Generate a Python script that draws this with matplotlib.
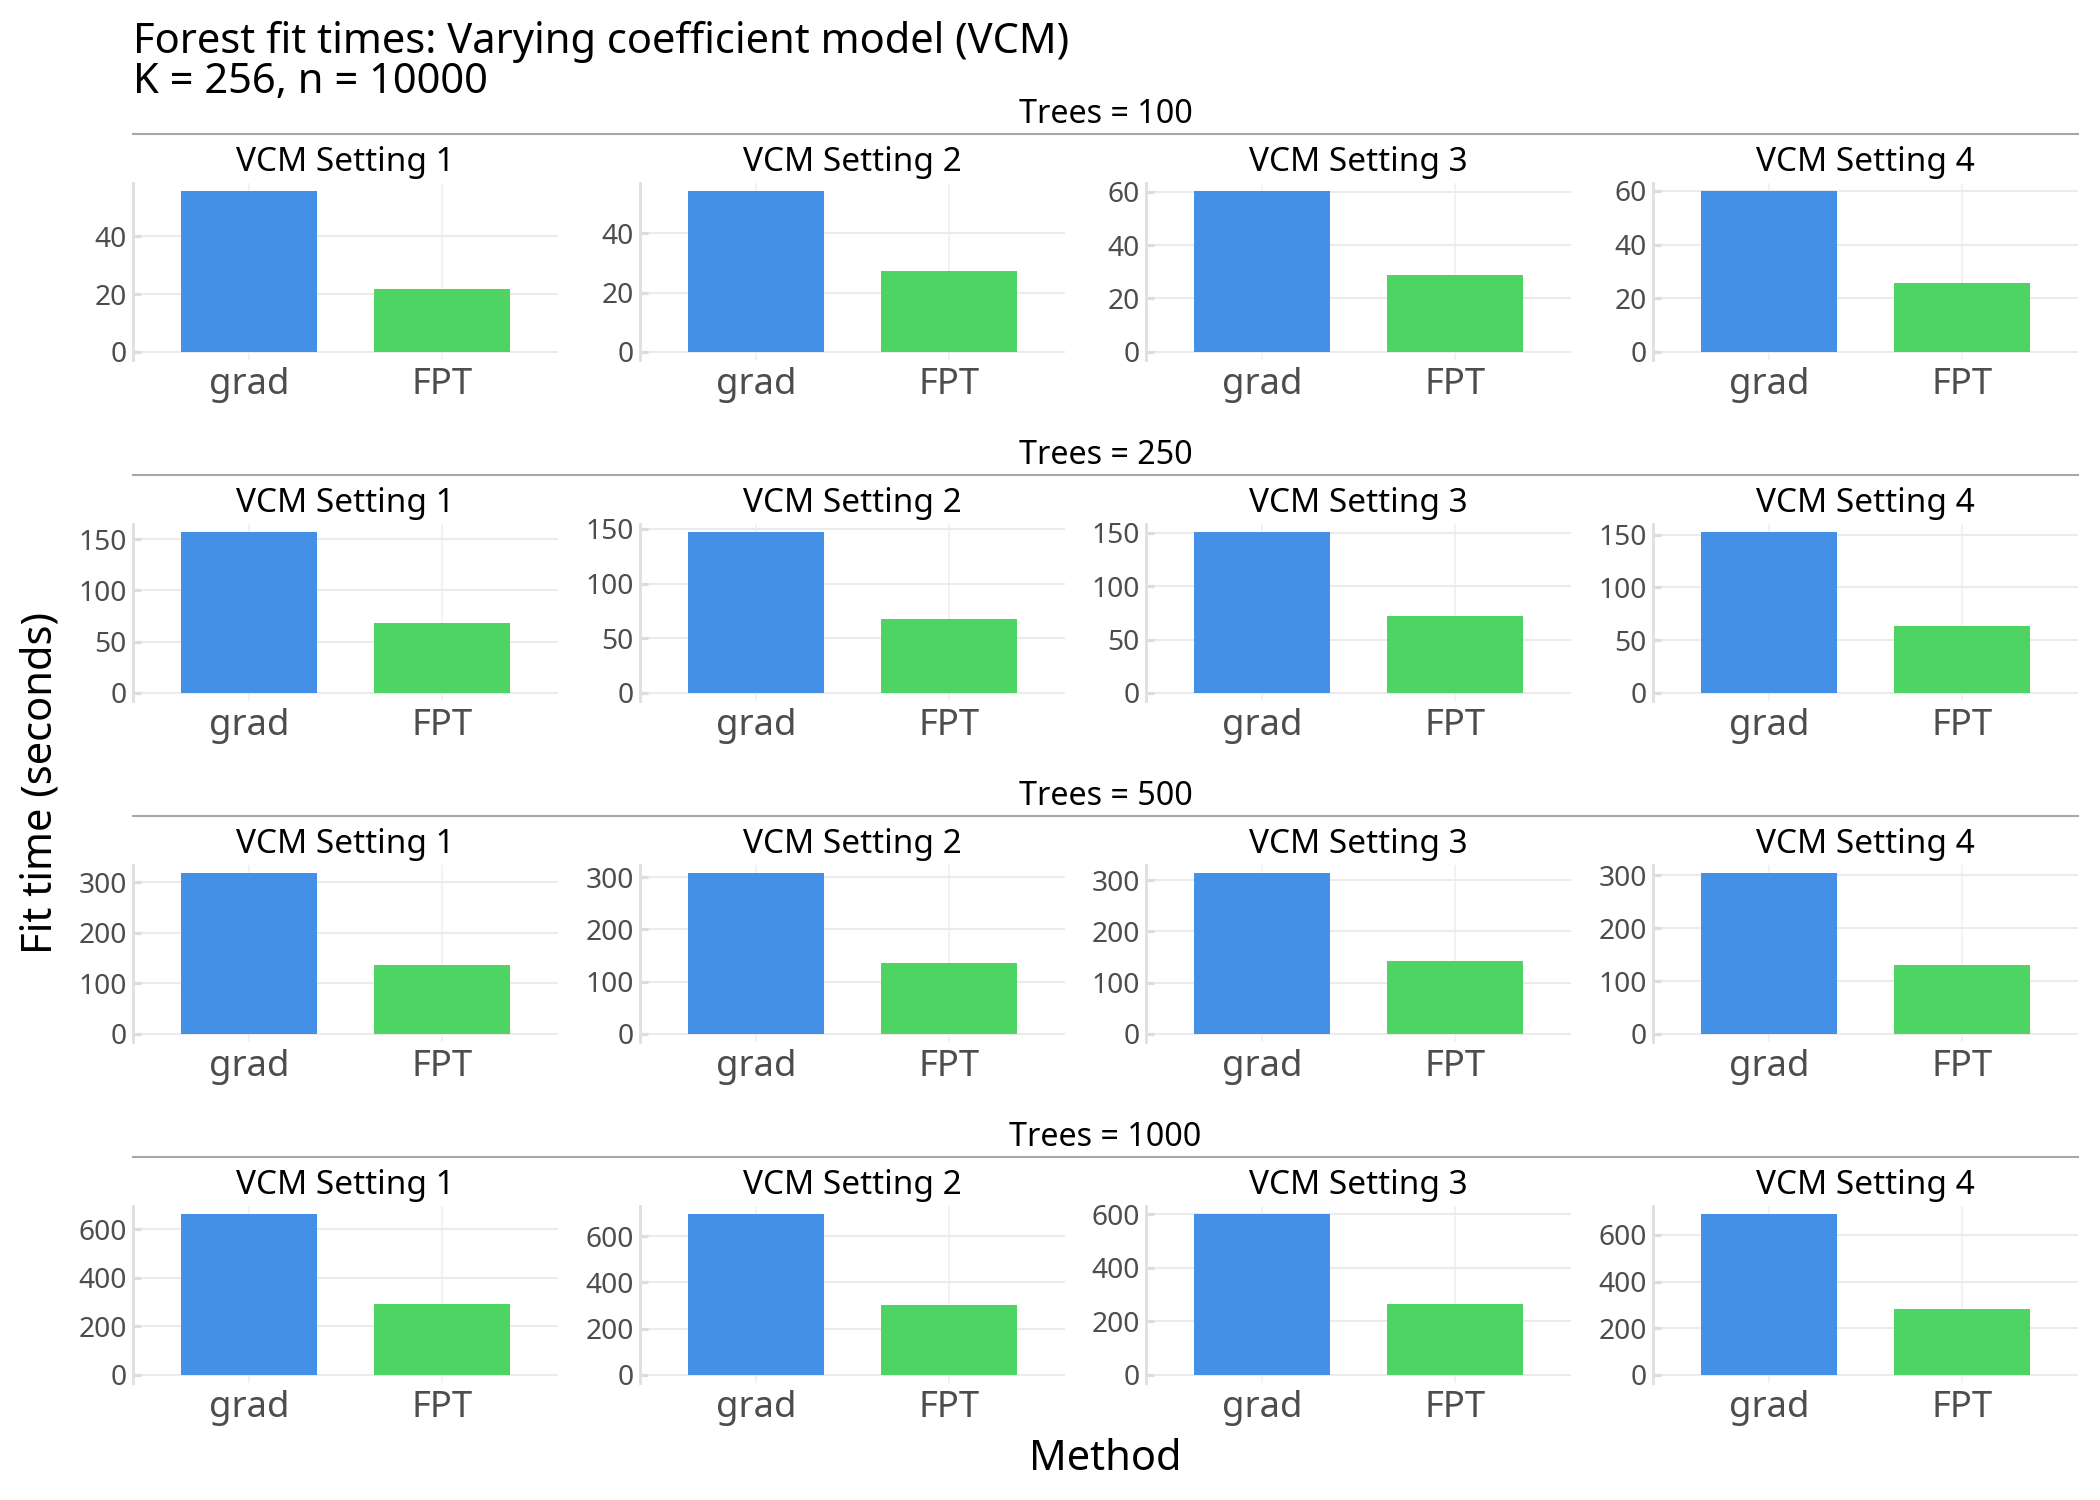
import matplotlib

matplotlib.use("Agg")
import matplotlib.pyplot as plt
from matplotlib.lines import Line2D
from matplotlib.ticker import MultipleLocator

plt.rcParams["font.family"] = ["Noto Sans", "DejaVu Sans"]

# data (seconds)
trees = [100, 250, 500, 1000]
settings = ["VCM Setting 1", "VCM Setting 2", "VCM Setting 3", "VCM Setting 4"]
methods = ["grad", "FPT"]
grad_times = [
    [55.6, 54.3, 60.2, 59.9],
    [156.9, 147.2, 150.7, 152.4],
    [318.7, 307.6, 313.7, 304.5],
    [663.4, 695.4, 601.0, 689.0],
]
fpt_times = [
    [21.7, 27.3, 28.7, 25.6],
    [68.6, 67.2, 72.5, 63.8],
    [137.0, 136.2, 142.8, 131.0],
    [291.0, 300.7, 263.8, 280.8],
]
y_tick_steps = [20, 50, 100, 200]

BLUE = "#4390E6"
GREEN = "#4DD462"
GRID = "#ebebeb"
TICK_GREY = "#4d4d4d"

W, H = 2100, 1500
PANEL_LEFT = [133, 640, 1146, 1653]
PANEL_W = 425
ROW_TOP = 183
ROW_STEP = 341
PANEL_H = 177


def fx(px):
    return px / W


def fy(px):
    return 1 - px / H


def main():
    fig = plt.figure(figsize=(14, 10), dpi=150)

    fig.text(fx(133), fy(53), "Forest fit times: Varying coefficient model (VCM)",
             fontsize=20, va="baseline", ha="left")
    fig.text(fx(133), fy(93), "K = 256, n = 10000",
             fontsize=20, va="baseline", ha="left")

    for r, nt in enumerate(trees):
        top = ROW_TOP + r * ROW_STEP
        # outer strip: "Trees = ..." with rule underneath
        fig.text(fx((PANEL_LEFT[0] + PANEL_LEFT[-1] + PANEL_W) / 2), fy(top - 60),
                 f"Trees = {nt}", fontsize=15.5, ha="center", va="baseline")
        fig.add_artist(Line2D([fx(PANEL_LEFT[0]), fx(PANEL_LEFT[-1] + PANEL_W)],
                              [fy(top - 49), fy(top - 49)],
                              color="#a6a6a6", linewidth=1.0))

        for c, setting in enumerate(settings):
            left = PANEL_LEFT[c]
            ax = fig.add_axes([fx(left), fy(top + PANEL_H), PANEL_W / W, PANEL_H / H])
            vals = [grad_times[r][c], fpt_times[r][c]]
            ax.bar([0, 1], vals, width=0.7, color=[BLUE, GREEN], zorder=2)

            vmax = max(vals)
            ax.set_xlim(-0.6, 1.6)
            ax.set_ylim(-0.05 * vmax, 1.05 * vmax)
            ax.yaxis.set_major_locator(MultipleLocator(y_tick_steps[r]))
            ax.set_xticks([0, 1])
            ax.set_xticklabels(methods)

            ax.grid(True, axis="y", color=GRID, linewidth=1.0, zorder=0)
            ax.grid(True, axis="x", color="#f0f0f0", linewidth=0.8, zorder=0)
            ax.set_axisbelow(True)

            for side in ["top", "right", "bottom"]:
                ax.spines[side].set_visible(False)
            ax.spines["left"].set_color("#e0e0e0")
            ax.spines["left"].set_linewidth(1.4)

            ax.tick_params(axis="y", labelsize=13.5, colors=TICK_GREY, length=4,
                           direction="in", color="#dddddd", width=1.5, pad=3)
            ax.tick_params(axis="x", labelsize=17.5, colors=TICK_GREY, length=0, pad=3.5)

            fig.text(fx(left + PANEL_W / 2), fy(top - 12), setting,
                     fontsize=16, ha="center", va="baseline")

    fig.text(fx(1105), fy(1459), "Method", fontsize=20, ha="center", va="center")
    fig.text(fx(40), fy(783), "Fit time (seconds)", fontsize=20, ha="center",
             va="center", rotation=90)

    fig.savefig("out.png", dpi=150, facecolor="white")
    plt.close(fig)


if __name__ == "__main__":
    main()
